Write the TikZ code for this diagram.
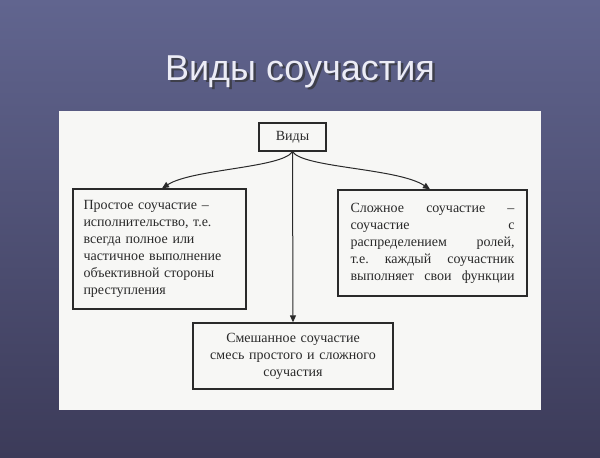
\documentclass[tikz,border=0pt]{standalone}
\usepackage{fontspec}
\setmainfont{Liberation Serif}
\newfontfamily\titlefont{Liberation Sans}
\usetikzlibrary{arrows.meta}
\definecolor{bgtop}{HTML}{61658F}
\definecolor{bgbot}{HTML}{3C3B59}
\definecolor{panel}{HTML}{F7F7F5}
\definecolor{ink}{HTML}{2A2A2A}
\definecolor{titlecol}{HTML}{ECECF6}
\tikzset{
  boxstyle/.style={draw=ink, line width=1.3pt, fill=panel, text=ink,
    font=\fontsize{14}{17}\selectfont, inner sep=0pt},
  conn/.style={draw=ink, line width=1pt, -{Triangle[length=7pt,width=6pt]}},
}
\begin{document}
\begin{tikzpicture}[x=1pt,y=-1pt]
\useasboundingbox (0,0) rectangle (600,458);
% background
\shade[top color=bgtop, bottom color=bgbot] (0,0) rectangle (600,458);
% title
\node[text=black!80, opacity=0.7, font=\titlefont\fontsize{36}{40}\selectfont, anchor=base] (tshadow) at (302.5,82.5) {Виды соучастия};
\node[text=titlecol, font=\titlefont\fontsize{36}{40}\selectfont, anchor=base] (title) at (300,80) {Виды соучастия};
% panel
\fill[panel] (59,111) rectangle (541,410);
% nodes
\node[boxstyle, minimum width=67pt, minimum height=28pt] (V) at (292.5,137) {Виды};
\node[boxstyle, minimum width=173pt, minimum height=120pt, text width=152pt, align=left] (L) at (159.5,249)
  {Простое соучастие –\\ исполнительство, т.е.\\ всегда полное или\\ частичное выполнение\\ объективной стороны\\ преступления};
\node[boxstyle, minimum width=189pt, minimum height=106pt, text width=164pt, align=left] (R) at (432.5,243)
  {Сложное\hfill соучастие\hfill –\\ соучастие\hfill с\\ распределением\hfill ролей,\\ т.е.\hfill каждый\hfill соучастник\\ выполняет\hfill свои\hfill функции};
\node[boxstyle, minimum width=200pt, minimum height=66pt, text width=185pt, align=center] (M) at (293,356)
  {Смешанное соучастие\\ смесь простого и сложного\\ соучастия};
% connectors
\draw[conn] (V.south) .. controls (282,168) and (192,169) .. ([xshift=2.5pt]L.north);
\draw[conn] (V.south) .. controls (303,168) and (398,168) .. ([xshift=-2.5pt]R.north);
\draw[conn] (V.south) -- (M.north);
\end{tikzpicture}
\end{document}
